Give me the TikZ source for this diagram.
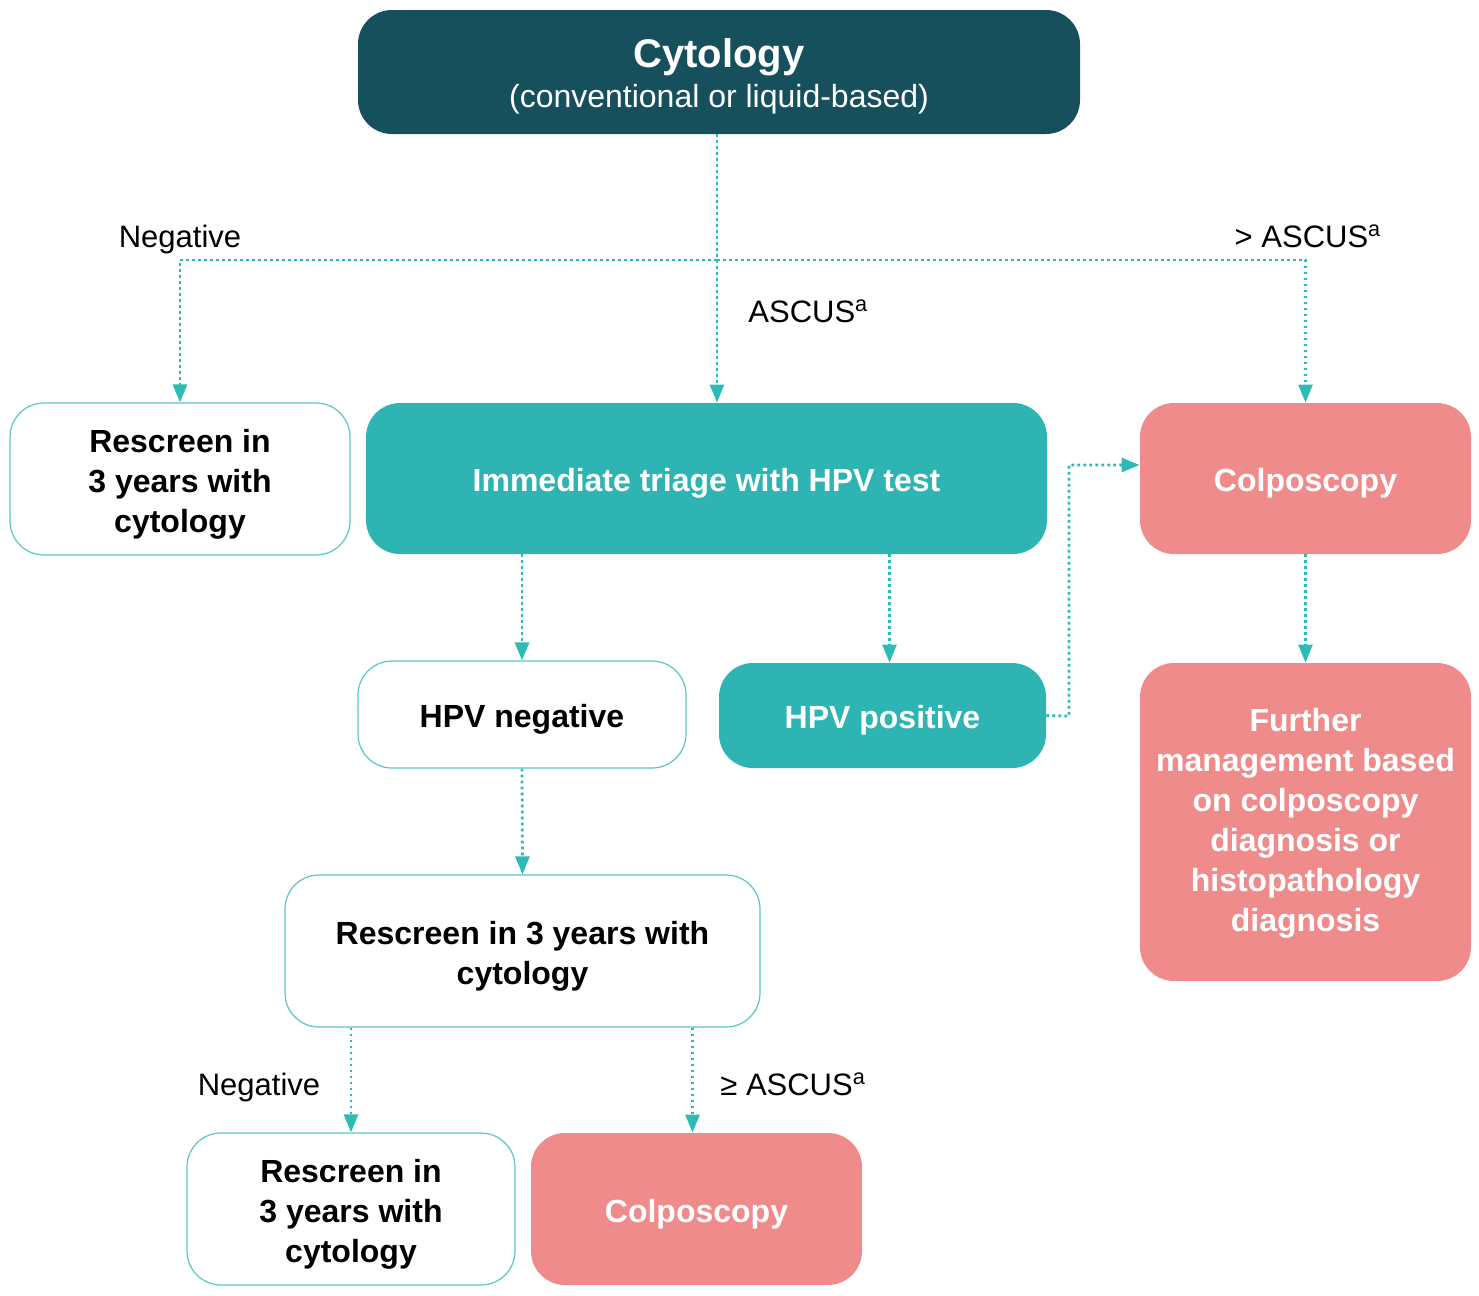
\documentclass[tikz,border=0pt]{standalone}
\usepackage{fontspec}
\setmainfont{Liberation Sans}
\usetikzlibrary{arrows.meta}
\definecolor{darkteal}{RGB}{22,80,92}
\definecolor{hpvteal}{RGB}{46,180,179}
\definecolor{colpink}{RGB}{239,139,139}
\definecolor{linkteal}{RGB}{46,186,183}

\begin{document}
\begin{tikzpicture}[x=0.5pt,y=0.5pt,yscale=-1,
    box/.style={rounded corners=17pt, align=center, inner sep=0pt, font=\fontsize{16}{20}\selectfont\bfseries},
    whitebox/.style={box, draw=linkteal!80, line width=0.6pt, fill=white},
    tealbox/.style={box, fill=hpvteal, text=white},
    pinkbox/.style={box, fill=colpink, text=white},
    link/.style={draw=linkteal, line width=1.4pt, dash pattern=on 1.4pt off 1.6pt, -{Triangle[length=9pt,width=7pt]}},
    lbl/.style={font=\fontsize{15.5}{19}\selectfont, inner sep=0pt}]
    \useasboundingbox (0,0) rectangle (1479,1296);

    % Top box
    \node[box, fill=darkteal, text=white, minimum width=361pt, minimum height=62pt] (cyto) at (719,72)
        {\rule{0pt}{19pt}{\fontsize{20}{24}\selectfont Cytology}\\[0pt]{\fontsize{16}{20}\selectfont\mdseries (conventional or liquid-based)}};

    % Second row
    \node[whitebox, minimum width=170pt, minimum height=76pt] (rescreenA) at (180,479) {\rule{0pt}{16.5pt}Rescreen in\\3 years with\\cytology};
    \node[tealbox, minimum width=340.5pt, minimum height=75.5pt] (triage) at (706.5,478.5) {\rule{0pt}{16.5pt}Immediate triage with HPV test};
    \node[pinkbox, minimum width=165.5pt, minimum height=75.5pt] (colpoA) at (1305.5,478.5) {\rule{0pt}{16.5pt}Colposcopy};

    % Third row
    \node[whitebox, minimum width=164pt, minimum height=53.5pt] (hpvneg) at (522,714.5) {\rule{0pt}{16.5pt}HPV negative};
    \node[tealbox, minimum width=163.5pt, minimum height=52.5pt] (hpvpos) at (882.5,715.5) {\rule{0pt}{16.5pt}HPV positive};
    \node[pinkbox, minimum width=165.5pt, minimum height=159pt] (further) at (1305.5,822)
        {\rule{0pt}{13pt}Further\\management based\\on colposcopy\\diagnosis or\\histopathology\\diagnosis};

    % Lower part
    \node[whitebox, minimum width=237.5pt, minimum height=76pt] (rescreenB) at (522.5,951) {\rule{0pt}{16.5pt}Rescreen in 3 years with\\cytology};
    \node[whitebox, minimum width=164pt, minimum height=76pt] (rescreenC) at (351,1209) {\rule{0pt}{16.5pt}Rescreen in\\3 years with\\cytology};
    \node[pinkbox, minimum width=165.5pt, minimum height=76pt] (colpoB) at (696.5,1209) {\rule{0pt}{16.5pt}Colposcopy};

    % Labels
    \node[lbl, anchor=base] (negA) at (180,247) {Negative};
    \node[lbl, anchor=base] (gtA) at (1308,247) {> ASCUS\textsuperscript{a}};
    \node[lbl, anchor=base west] (ascA) at (748,322) {ASCUS\textsuperscript{a}};
    \node[lbl, anchor=base] (negB) at (259,1095) {Negative};
    \node[lbl, anchor=base west] (geB) at (720,1095) {≥ ASCUS\textsuperscript{a}};

    % Connectors
    \coordinate (split) at ([xshift=-1pt]cyto.south |- 0,260);
    \coordinate (kneeA) at (1069,716);
    \coordinate (kneeB) at (1069,465);
    \draw[link] ([xshift=-1pt]cyto.south) -- ([xshift=-1pt]cyto.south |- triage.north);
    \draw[link] (split) -| (rescreenA.north);
    \draw[link] (split) -| (colpoA.north);
    \draw[link] (triage.south -| hpvneg.north) -- (hpvneg.north);
    \draw[link] ([xshift=3.5pt]triage.south -| hpvpos.north) -- ([xshift=3.5pt]hpvpos.north);
    \draw[link] (hpvpos.east) -- (kneeA) -- (kneeB) -- (kneeB -| colpoA.west);
    \draw[link] (colpoA.south) -- (further.north);
    \draw[link] (hpvneg.south) -- (rescreenB.north);
    \draw[link] (rescreenB.south -| rescreenC.north) -- (rescreenC.north);
    \draw[link] ([xshift=-2pt]rescreenB.south -| colpoB.north) -- ([xshift=-2pt]colpoB.north);

\end{tikzpicture}
\end{document}
